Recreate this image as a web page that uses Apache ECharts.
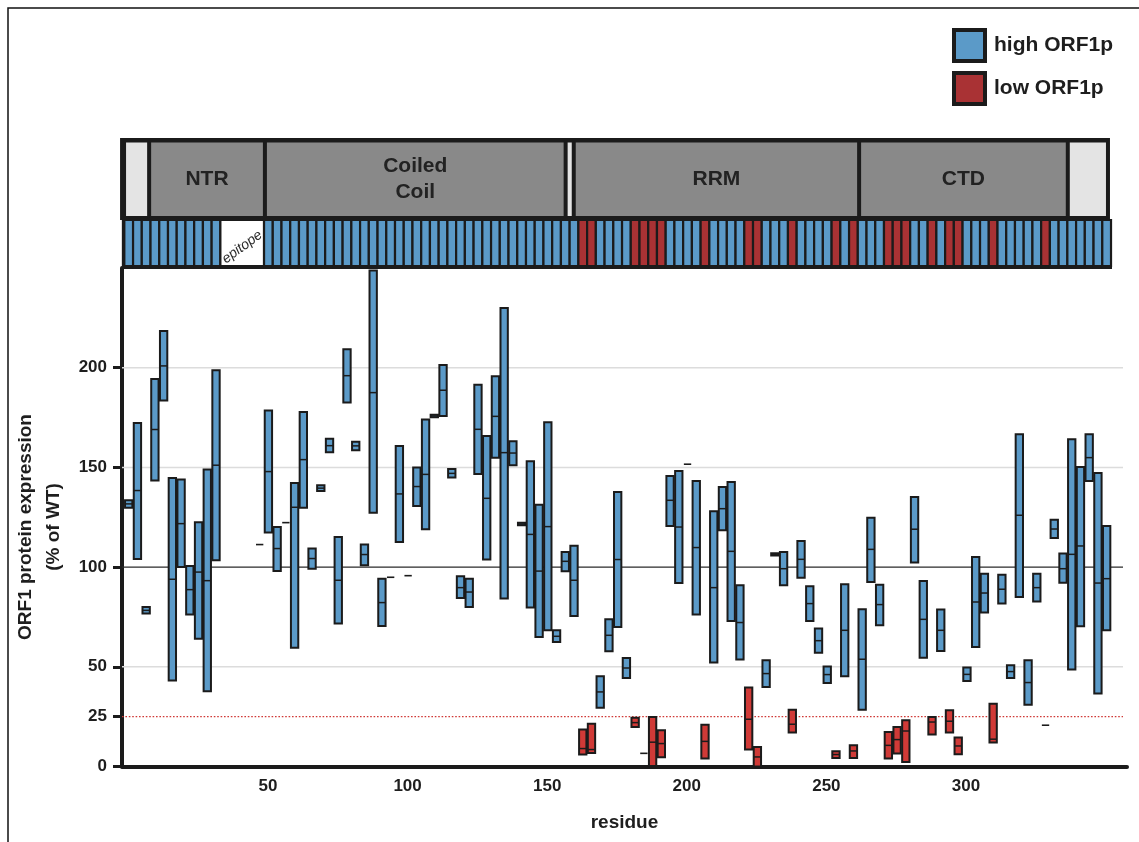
<!DOCTYPE html>
<html>
<head>
<meta charset="utf-8">
<title>ORF1 protein expression by mutant</title>
<script src="https://cdn.jsdelivr.net/npm/echarts@6/dist/echarts.min.js"></script>
<style>
  html, body { margin: 0; padding: 0; background: #ffffff; }
  #chart { width: 1139px; height: 842px; }
</style>
</head>
<body>
<div id="chart"></div>
<script>
// ---- data -------------------------------------------------------------
// Scanning mutants, indexed by position along the stripe (one cell each).
const mutantCell = [
  0, 1, 2, 3, 4, 5, 6, 7, 8, 9, 10,
  15, 16, 17, 18, 19, 20, 21, 22, 23, 24, 25, 26, 27, 28, 29, 30, 31, 32, 33, 34,
  35, 36, 37, 38, 39, 40, 41, 42, 43, 44, 45, 46, 47, 48, 49, 50, 51, 52, 53, 54,
  55, 56, 57, 58, 59, 60, 61, 62, 63, 64, 65, 66, 67, 68, 69, 70, 71, 72, 73, 74,
  75, 76, 77, 78, 79, 80, 81, 82, 83, 84, 85, 86, 87, 88, 89, 90, 91, 92, 93, 94,
  95, 96, 97, 98, 99, 100, 101, 102, 103, 104, 105, 106, 107, 108, 109, 110, 111, 112
];
// Expression (% of WT): lowest replicate, median, highest replicate
const exprMin = [
  129.8, 104.0, 76.7, 143.4, 183.5, 43.1, 100.0, 76.2, 64.1, 37.7, 103.4,
  111.3, 117.3, 98.0, 122.3, 59.6, 129.8, 99.2, 138.2, 157.6, 71.7, 182.6, 158.6, 100.9, 127.3, 70.5, 94.9, 112.6, 95.7, 130.7, 119.0,
  175.2, 175.8, 144.9, 84.5, 80.0, 146.7, 103.8, 154.9, 84.2, 151.1, 121.0, 79.8, 65.0, 68.3, 62.4, 97.9, 75.5, 6.0, 6.8, 29.5,
  57.8, 70.0, 44.4, 19.8, 6.6, 0.3, 4.6, 120.6, 92.0, 151.6, 76.2, 4.0, 52.1, 118.5, 73.0, 53.6, 8.5, 0.0, 39.9, 105.8,
  90.9, 17.0, 94.7, 73.0, 57.1, 41.9, 4.3, 45.2, 4.3, 28.5, 92.5, 70.8, 4.0, 6.5, 2.3, 102.3, 54.6, 16.1, 57.9, 17.0,
  6.1, 42.9, 59.9, 77.2, 12.0, 81.7, 44.4, 85.0, 31.0, 82.8, 20.7, 114.6, 92.2, 48.6, 70.3, 143.2, 36.6, 68.3
];
const exprMedian = [
  131.7, 138.4, 78.3, 169.0, 200.9, 93.9, 121.8, 88.7, 97.5, 93.2, 151.1,
  111.3, 147.9, 109.3, 122.3, 130.0, 153.9, 104.3, 139.6, 160.9, 93.4, 196.0, 160.8, 106.3, 187.5, 82.2, 94.9, 136.7, 95.7, 140.4, 146.5,
  175.8, 188.7, 147.0, 89.7, 87.5, 169.1, 134.5, 175.6, 157.4, 157.2, 121.6, 116.4, 98.0, 120.3, 65.3, 102.9, 93.4, 9.0, 8.5, 37.4,
  65.8, 103.8, 49.4, 22.0, 6.6, 12.2, 11.5, 133.5, 120.1, 151.6, 109.8, 12.6, 89.7, 129.3, 107.9, 72.2, 23.7, 4.8, 46.6, 106.4,
  99.2, 21.2, 103.9, 81.7, 63.1, 46.1, 6.0, 68.3, 7.8, 53.8, 108.9, 81.2, 10.6, 13.5, 17.8, 119.0, 73.8, 22.3, 68.3, 22.7,
  10.3, 46.2, 82.5, 87.0, 13.7, 88.9, 47.6, 126.0, 42.1, 89.7, 20.7, 119.1, 99.2, 106.4, 110.6, 154.9, 92.0, 94.2
];
const exprMax = [
  133.5, 172.3, 80.0, 194.3, 218.4, 144.7, 143.9, 100.6, 122.5, 148.9, 198.7,
  111.3, 178.5, 120.1, 122.3, 142.2, 177.8, 109.3, 141.0, 164.4, 115.1, 209.2, 162.9, 111.3, 248.8, 94.2, 94.9, 160.7, 95.7, 150.0, 174.0,
  176.4, 201.4, 149.2, 95.4, 94.2, 191.5, 165.7, 195.7, 229.9, 163.1, 122.2, 153.1, 131.3, 172.6, 68.3, 107.6, 110.7, 18.5, 21.5, 45.2,
  73.8, 137.7, 54.4, 24.5, 6.6, 24.8, 18.2, 145.7, 148.2, 151.6, 143.2, 21.0, 128.0, 140.2, 142.7, 90.9, 39.6, 9.8, 53.3, 107.0,
  107.6, 28.5, 113.1, 90.4, 69.2, 50.2, 7.6, 91.4, 10.6, 78.8, 124.8, 91.2, 17.3, 19.8, 23.2, 135.2, 93.0, 24.8, 78.7, 28.2,
  14.5, 49.6, 105.1, 96.7, 31.5, 96.2, 50.8, 166.6, 53.3, 96.7, 20.7, 123.8, 106.8, 164.1, 150.2, 166.6, 147.2, 120.6
];

// Stripe classification, run-length: H = high ORF1p, L = low ORF1p, E = epitope
const stripeRuns = [
  ['H', 11], ['E', 5], ['H', 36], ['L', 2], ['H', 4], ['L', 4], ['H', 4], ['L', 1],
  ['H', 4], ['L', 2], ['H', 3], ['L', 1], ['H', 4], ['L', 1], ['H', 1], ['L', 1],
  ['H', 3], ['L', 3], ['H', 2], ['L', 1], ['H', 1], ['L', 2], ['H', 3], ['L', 1],
  ['H', 5], ['L', 1], ['H', 7]
];

// Domain map, boundaries in stripe-cell units
const domainNames = ['', 'NTR', 'Coiled\nCoil', '', 'RRM', 'CTD', ''];
const domainEdges = [-0.99, 2.34, 15.6, 50.04, 50.97, 83.65, 107.55, 112.38];

// Axis ticks and reference levels
const residueTicks = [50, 100, 150, 200, 250, 300];
const expressionTicks = [0, 25, 50, 100, 150, 200];
const gridLevels = [50, 150, 200];
const wtLevel = 100;
const lowCutoff = 25;

const seriesNames = ['high ORF1p', 'low ORF1p'];

// ---- styling ----------------------------------------------------------
const FONT = '"Liberation Sans", Arial, Helvetica, sans-serif';
const INK = '#1b1b1b';
const BLUE = '#5b9ac8';
const RED_BOX = '#d03a37';
const RED_DARK = '#a93234';
const DOMAIN_GRAY = '#898989';
const DOMAIN_LIGHT = '#e4e4e4';

// per-cell class list expanded from the runs
const cellClass = [];
stripeRuns.forEach(([c, n]) => { for (let k = 0; k < n; k++) cellClass.push(c); });

// rows [cell, min, median, max] split by class
const highRows = [], lowRows = [];
mutantCell.forEach((c, i) => {
  const row = [c, exprMin[i], exprMedian[i], exprMax[i]];
  (cellClass[c] === 'L' ? lowRows : highRows).push(row);
});

const chart = echarts.init(document.getElementById('chart'), null, { renderer: 'canvas' });

// x axis ranges (residue scale is labelled; cell scale places the marks)
const residueMin = -2.29, residueMax = 357.67;
const cellMin = -0.767, cellMax = 114.33;

function boxRenderer(fill) {
  return function (params, api) {
    const c = api.value(0), lo = api.value(1), md = api.value(2), hi = api.value(3);
    const pTop = api.coord([c, hi]);
    const pBot = api.coord([c, lo]);
    const pMid = api.coord([c, md]);
    const cw = api.size([1, 0])[0];
    const bw = cw - 1.4;
    const x = pTop[0] - bw / 2;
    if (hi - lo < 0.01) {
      return {
        type: 'line',
        shape: { x1: x, y1: pMid[1], x2: x + bw, y2: pMid[1] },
        style: { stroke: INK, lineWidth: 1.6 }
      };
    }
    return {
      type: 'group',
      children: [
        {
          type: 'rect',
          shape: { x: x, y: pTop[1], width: bw, height: pBot[1] - pTop[1] },
          style: { fill: fill, stroke: INK, lineWidth: 2 }
        },
        {
          type: 'line',
          shape: { x1: x, y1: pMid[1], x2: x + bw, y2: pMid[1] },
          style: { stroke: INK, lineWidth: 1.5 }
        }
      ]
    };
  };
}

// reference lines: [x placeholder, level, kind]
const refRows = gridLevels.map(v => [0, v, 0]).concat([[0, wtLevel, 1], [0, lowCutoff, 2]]);
const refStyles = [
  { stroke: '#dcdcdc', lineWidth: 1.5 },
  { stroke: '#2a2a2a', lineWidth: 1.1 },
  { stroke: RED_BOX, lineWidth: 1.4, lineDash: [1.6, 1.8] }
];

function refRenderer(params, api) {
  const y = api.coord([0, api.value(1)])[1];
  const cs = params.coordSys;
  return {
    type: 'line',
    shape: { x1: cs.x, y1: y, x2: cs.x + cs.width - 4, y2: y },
    style: refStyles[api.value(2)]
  };
}

// stripe rows: [cell, classCode]
const classCode = { H: 0, L: 1, E: 2 };
const stripeRows = cellClass.map((c, i) => [i, classCode[c]]);

function stripeRenderer(params, api) {
  const i = api.value(0), k = api.value(1);
  const cs = params.coordSys;
  const top = cs.y + 1;
  const bottom = cs.y + cs.height - 2;
  const children = [];
  const x0 = api.coord([i - 0.5, 0])[0];
  const x1 = api.coord([i + 0.5, 0])[0];
  if (k === 2) {
    // the epitope run is drawn once, as a single white block
    if (i > 0 && cellClass[i - 1] === 'E') return { type: 'group', children: [] };
    let n = 0;
    while (cellClass[i + n] === 'E') n++;
    const xe = api.coord([i - 0.5 + n, 0])[0];
    children.push({
      type: 'rect',
      shape: { x: x0, y: top, width: xe - x0, height: bottom - top },
      style: { fill: '#ffffff', stroke: INK, lineWidth: 2.2 }
    });
    children.push({
      type: 'text',
      x: (x0 + xe) / 2,
      y: (top + bottom) / 2 + 4,
      rotation: 36 * Math.PI / 180,
      style: {
        text: 'epitope', font: 'italic 14px ' + FONT, fill: '#2a2a2a',
        align: 'center', verticalAlign: 'middle'
      }
    });
    children.push({
      type: 'line',
      shape: { x1: x0, y1: cs.y + cs.height - 1, x2: xe, y2: cs.y + cs.height - 1 },
      style: { stroke: INK, lineWidth: 4 }
    });
    return { type: 'group', children: children };
  }
  children.push({
    type: 'rect',
    shape: { x: x0, y: top, width: x1 - x0, height: bottom - top },
    style: { fill: k === 1 ? RED_DARK : BLUE, stroke: INK, lineWidth: 2.2 }
  });
  children.push({
    type: 'line',
    shape: { x1: x0 - 1, y1: cs.y + cs.height - 1, x2: x1 + 1, y2: cs.y + cs.height - 1 },
    style: { stroke: INK, lineWidth: 4 }
  });
  if (i === 0) {
    children.push({
      type: 'line',
      shape: { x1: x0 - 1, y1: cs.y, x2: x0 - 1, y2: cs.y + cs.height + 1 },
      style: { stroke: INK, lineWidth: 3 }
    });
  }
  return { type: 'group', children: children };
}

// domain rows: [start, end, index]
const domainRows = domainNames.map((n, k) => [domainEdges[k], domainEdges[k + 1], k]);

function domainRenderer(params, api) {
  const k = api.value(2);
  const cs = params.coordSys;
  const xs = api.coord([api.value(0), 0])[0];
  const xe = api.coord([api.value(1), 0])[0];
  const last = domainNames.length - 1;
  const insetL = k === 0 ? 6 : 2;
  const insetR = k === last ? 4 : 2;
  const top = cs.y + 4.5;
  const bottom = cs.y + cs.height - 3;
  const children = [];
  if (k === 0) {
    const xEnd = api.coord([domainEdges[domainEdges.length - 1], 0])[0];
    children.push({
      type: 'rect',
      shape: { x: xs, y: cs.y, width: xEnd - xs, height: cs.height + 1 },
      style: { fill: INK }
    });
  }
  const name = domainNames[k];
  children.push({
    type: 'rect',
    shape: { x: xs + insetL, y: top, width: xe - xs - insetL - insetR, height: bottom - top },
    style: { fill: name ? DOMAIN_GRAY : DOMAIN_LIGHT }
  });
  if (name) {
    children.push({
      type: 'text',
      x: (xs + xe) / 2,
      y: (top + bottom) / 2,
      style: {
        text: name, font: 'bold 21px ' + FONT, fill: '#222222',
        align: 'center', verticalAlign: 'middle', lineHeight: 26
      }
    });
  }
  return { type: 'group', children: children };
}

const option = {
  backgroundColor: '#ffffff',
  animation: false,
  legend: {
    orient: 'vertical',
    left: 952,
    top: 28,
    padding: 0,
    itemWidth: 31,
    itemHeight: 31,
    itemGap: 8,
    icon: 'rect',
    itemStyle: { borderColor: INK, borderWidth: 4 },
    textStyle: {
      fontFamily: FONT, fontWeight: 'bold', fontSize: 21, color: '#1e1e1e',
      padding: [0, 0, 0, 4]
    },
    data: seriesNames
  },
  grid: [
    { left: 122, top: 268, width: 1005, height: 498.5 },
    { left: 122, top: 219, width: 1005, height: 49 },
    { left: 122, top: 138, width: 1005, height: 81 }
  ],
  xAxis: [
    {
      gridIndex: 0, type: 'value', min: residueMin, max: residueMax,
      axisLine: { show: true, onZero: false, lineStyle: { color: INK, width: 4 } },
      axisTick: { show: false },
      splitLine: { show: false },
      axisLabel: {
        customValues: residueTicks, margin: 11,
        fontFamily: FONT, fontWeight: 'bold', fontSize: 17, color: '#1e1e1e'
      },
      name: 'residue', nameLocation: 'middle', nameGap: 47,
      nameTextStyle: { fontFamily: FONT, fontWeight: 'bold', fontSize: 19, color: '#1e1e1e' }
    },
    { gridIndex: 0, type: 'value', min: cellMin, max: cellMax, show: false,
      axisLine: { onZero: false } },
    { gridIndex: 1, type: 'value', min: cellMin, max: cellMax, show: false },
    { gridIndex: 2, type: 'value', min: cellMin, max: cellMax, show: false }
  ],
  yAxis: [
    {
      gridIndex: 0, type: 'value', min: 0, max: 250,
      axisLine: { show: true, onZero: false, lineStyle: { color: INK, width: 4 } },
      axisTick: { show: true, customValues: expressionTicks, length: 9, lineStyle: { color: INK, width: 3 } },
      axisLabel: {
        customValues: expressionTicks, margin: 15,
        fontFamily: FONT, fontWeight: 'bold', fontSize: 17,
        color: v => (v === lowCutoff ? RED_BOX : '#1e1e1e')
      },
      splitLine: { show: false }
    },
    { gridIndex: 1, type: 'value', min: 0, max: 1, show: false },
    { gridIndex: 2, type: 'value', min: 0, max: 1, show: false }
  ],
  graphic: [
    {
      type: 'rect', z: 0, silent: true,
      shape: { x: 8, y: 8, width: 1160, height: 880 },
      style: { fill: 'none', stroke: '#111111', lineWidth: 1.5 }
    },
    {
      type: 'text', x: 40, y: 527, rotation: Math.PI / 2, silent: true,
      style: {
        text: 'ORF1 protein expression\n(% of WT)',
        font: 'bold 19px ' + FONT, fill: '#1e1e1e',
        align: 'center', verticalAlign: 'middle', lineHeight: 28
      }
    }
  ],
  series: [
    {
      name: 'reference levels', type: 'custom', xAxisIndex: 0, yAxisIndex: 0, z: 1,
      silent: true, renderItem: refRenderer, encode: { x: 0, y: 1 }, data: refRows
    },
    {
      name: seriesNames[0], type: 'custom', xAxisIndex: 1, yAxisIndex: 0, z: 3,
      itemStyle: { color: BLUE }, renderItem: boxRenderer(BLUE),
      encode: { x: 0, y: [1, 2, 3] }, data: highRows
    },
    {
      name: seriesNames[1], type: 'custom', xAxisIndex: 1, yAxisIndex: 0, z: 3,
      itemStyle: { color: RED_DARK }, renderItem: boxRenderer(RED_BOX),
      encode: { x: 0, y: [1, 2, 3] }, data: lowRows
    },
    {
      name: 'stripe', type: 'custom', xAxisIndex: 2, yAxisIndex: 1, z: 2,
      silent: true, renderItem: stripeRenderer, encode: { x: 0, y: 1 }, data: stripeRows
    },
    {
      name: 'domains', type: 'custom', xAxisIndex: 3, yAxisIndex: 2, z: 2,
      silent: true, renderItem: domainRenderer, encode: { x: 0, y: 2 }, data: domainRows
    }
  ]
};

chart.setOption(option);
</script>
</body>
</html>
